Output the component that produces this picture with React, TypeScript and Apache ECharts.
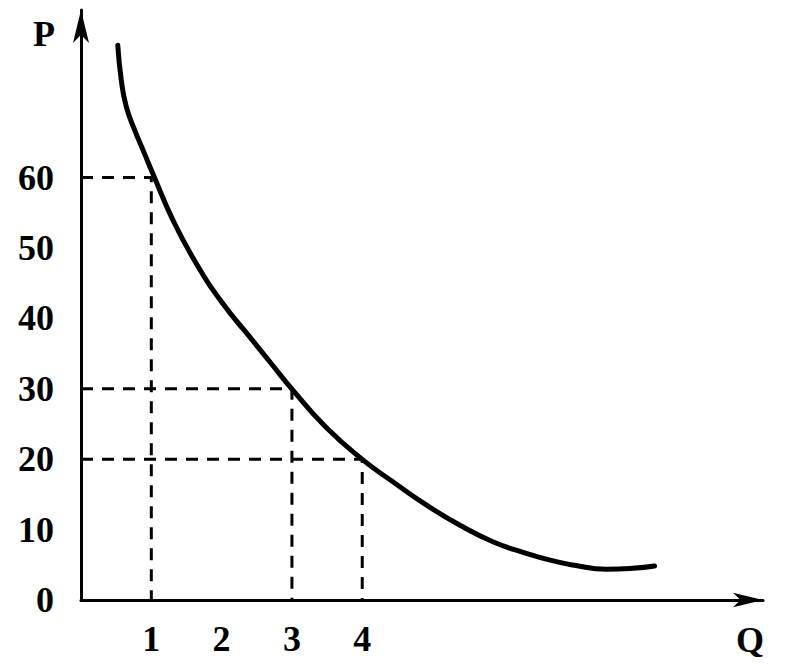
import React, { useEffect, useRef } from "react";
import * as echarts from "echarts";

// Demand curve (Q, P)
const curveQ = [0.523, 0.572, 0.643, 0.761, 0.903, 1.045, 1.306, 1.639, 2.017, 2.397, 2.728, 3.013, 3.488, 4.009, 4.435, 4.91, 5.384, 5.858, 6.333, 6.76, 6.996, 7.471, 7.849, 8.158];
const curveP = [78.8, 73.9, 70.1, 66.8, 63.4, 60.0, 54.0, 47.8, 42.1, 37.4, 33.3, 29.8, 24.5, 19.9, 16.8, 13.5, 10.65, 8.28, 6.63, 5.44, 4.97, 4.36, 4.5, 4.83];

// Marked points on the curve (guide lines)
const markQ = [1, 3, 4];
const markP = [60, 30, 20];

const yTickLabels = [0, 10, 20, 30, 40, 50, 60];
const xTickLabels = [1, 2, 3, 4];

const FONT = "Liberation Serif";

export default function App() {
  const ref = useRef<HTMLDivElement>(null);
  useEffect(() => {
    if (!ref.current) return;
    const chart = echarts.init(ref.current, null, { renderer: "svg" });
    const curve = curveQ.map((q, i) => [q, curveP[i]]);
    const guides = markQ.map((q, i) => ({
      type: "line",
      data: [
        [0, markP[i]],
        [q, markP[i]],
        [q, 0],
      ],
      symbol: "none",
      silent: true,
      z: 1,
      lineStyle: { color: "#000", width: 3, type: [12, 9] },
    }));
    chart.setOption({
      animation: false,
      backgroundColor: "#fff",
      grid: { left: 81, right: 33, top: 10, bottom: 64, containLabel: false, outerBoundsMode: "none" },
      xAxis: {
        type: "value",
        min: 0,
        max: 9.7,
        interval: 1,
        splitLine: { show: false },
        axisTick: { show: false },
        axisLine: {
          show: true,
          symbol: ["none", "arrow"],
          symbolSize: [11, 30],
          lineStyle: { color: "#000", width: 3 },
        },
        axisLabel: {
          margin: 21,
          color: "#000",
          fontFamily: FONT,
          fontSize: 36,
          fontWeight: "bold",
          showMaxLabel: false,
          formatter: (v: number) => (xTickLabels.includes(v) ? String(v) : ""),
        },
      },
      yAxis: {
        type: "value",
        min: 0,
        max: 83.8,
        interval: 10,
        splitLine: { show: false },
        axisTick: { show: false },
        axisLine: {
          show: true,
          symbol: ["none", "arrow"],
          symbolSize: [12, 33],
          lineStyle: { color: "#000", width: 3 },
        },
        axisLabel: {
          margin: 27,
          color: "#000",
          fontFamily: FONT,
          fontSize: 36,
          fontWeight: "bold",
          showMaxLabel: false,
          formatter: (v: number) => (yTickLabels.includes(v) ? String(v) : ""),
        },
      },
      graphic: [
        {
          type: "text",
          x: 44,
          y: 34,
          style: {
            text: "P",
            fill: "#000",
            font: `bold 36px "${FONT}"`,
            textAlign: "center",
            textVerticalAlign: "middle",
          },
        },
        {
          type: "text",
          x: 750,
          y: 640,
          style: {
            text: "Q",
            fill: "#000",
            font: `bold 36px "${FONT}"`,
            textAlign: "center",
            textVerticalAlign: "middle",
          },
        },
      ],
      series: [
        ...guides,
        {
          type: "line",
          data: curve,
          smooth: 0.5,
          symbol: "none",
          z: 3,
          lineStyle: { color: "#000", width: 5, cap: "round" },
        },
      ],
    });
    return () => chart.dispose();
  }, []);
  return <div ref={ref} style={{ position: "fixed", left: 0, top: 0, width: 796, height: 664 }} />;
}
